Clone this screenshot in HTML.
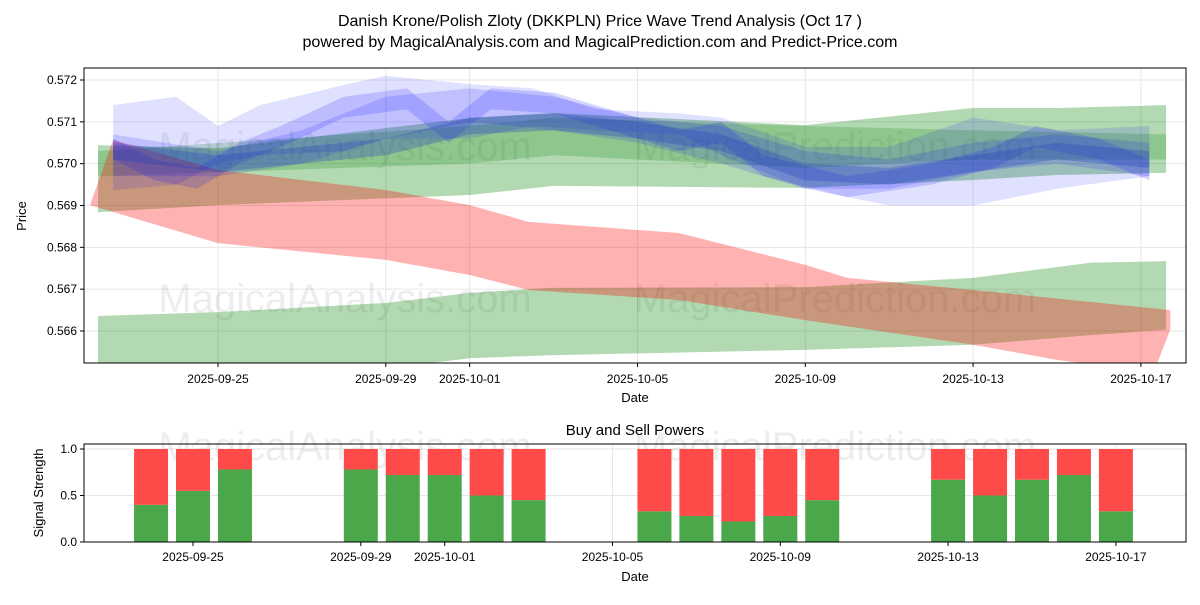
<!DOCTYPE html>
<html><head><meta charset="utf-8"><style>
body{margin:0;background:#fff;}
svg text{font-family:"Liberation Sans","DejaVu Sans",sans-serif;}
</style></head><body>
<svg id="c" width="1200" height="600" xmlns="http://www.w3.org/2000/svg">
<rect width="1200" height="600" fill="#fff"/>
<defs><clipPath id="ct"><rect x="84" y="68" width="1102" height="295"/></clipPath></defs>
<text x="600" y="26" text-anchor="middle" font-size="16">Danish Krone/Polish Zloty (DKKPLN) Price Wave Trend Analysis (Oct 17 )</text>
<text x="600" y="47" text-anchor="middle" font-size="16">powered by MagicalAnalysis.com and MagicalPrediction.com and Predict-Price.com</text>
<g id="topg"></g><g id="botg"></g>
</svg>
<script>
const NS="http://www.w3.org/2000/svg";
const dateTicks=["2025-09-25","2025-09-29","2025-10-01","2025-10-05","2025-10-09","2025-10-13","2025-10-17"];
const dateTickDays=[0,4,6,10,14,18,22];
const priceTicks=[0.566,0.567,0.568,0.569,0.570,0.571,0.572];
const redUpX=[-3.05,-2.5,0,4,6,7.4,11,14,15,18,22.7];
const redUpY=[0.56901,0.57057,0.56985,0.56937,0.56901,0.56861,0.56834,0.56758,0.56727,0.56698,0.56650];
const redLoX=[-3.05,0,4,6,7.4,11,14,18,20,22.3,22.7];
const redLoY=[0.56901,0.56810,0.56770,0.56734,0.56698,0.56674,0.56626,0.56567,0.56531,0.56500,0.56603];
const gLowX=[-2.86,0,4,6,7.9,14,18,20.8,22.6];
const gLowUp=[0.56636,0.56645,0.56667,0.56691,0.56703,0.56705,0.56727,0.56763,0.56767];
const gLowLo=[0.56500,0.56500,0.56510,0.56535,0.56542,0.56555,0.56567,0.56590,0.56603];
const gUpX=[-2.86,0,6,8,14,18,20,22.6];
const gUpUp=[0.57044,0.57037,0.57109,0.57121,0.57092,0.57133,0.57133,0.57140];
const gUpLo=[0.56884,0.56901,0.56925,0.56947,0.56942,0.56961,0.56973,0.56978];
const gInX=[-2.86,6,8,14,18,22.6];
const gInUp=[0.5703,0.5709,0.5711,0.5709,0.5708,0.5707];
const gInLo=[0.5697,0.5700,0.5702,0.5699,0.5701,0.5701];
const bAX=[-2.5,-1,0,1,3,4,6,7.5,9,11,12,14,16,18,20,22.2];
const bAUp=[0.5714,0.5716,0.5709,0.5714,0.57188,0.5721,0.5719,0.5718,0.5713,0.5712,0.5711,0.5704,0.5704,0.5711,0.5708,0.5709];
const bALo=[0.56937,0.5695,0.5700,0.5702,0.5703,0.5706,0.5706,0.5709,0.5708,0.5707,0.5702,0.5694,0.5690,0.5690,0.5694,0.5697];
const bBX=[-2.5,0,2,4,6,8,10,12,14,16,18,20,22.2];
const bBUp=[0.5707,0.5703,0.5708,0.5716,0.5718,0.5716,0.5711,0.5709,0.5703,0.5701,0.5705,0.5707,0.5705];
const bBLo=[0.5697,0.5697,0.5700,0.5706,0.5710,0.5708,0.5705,0.5700,0.5694,0.5694,0.5698,0.5700,0.5697];
const bCUp=[0.5705,0.5702,0.5704,0.5706,0.5711,0.5712,0.5710,0.5707,0.5700,0.5699,0.5702,0.5705,0.5703];
const bCLo=[0.5701,0.5698,0.5700,0.5702,0.5707,0.5708,0.5706,0.5703,0.5696,0.5695,0.5698,0.5701,0.5699];
const bDX=[-2.5,-1.5,-0.5,0.5,1.5,3,4.5,5.5,6.5,8,9,11,12,13,15,17,18.5,19.5,21,22.2];
const bDUp=[0.5706,0.5701,0.5699,0.5705,0.5709,0.5716,0.5718,0.5710,0.5718,0.5717,0.5714,0.5708,0.5710,0.5702,0.5697,0.5700,0.5704,0.5709,0.5706,0.5701];
const bDLo=[0.5701,0.5696,0.5694,0.5700,0.5704,0.5711,0.5713,0.5705,0.5713,0.5712,0.5709,0.5703,0.5705,0.5697,0.5692,0.5695,0.5699,0.5704,0.5701,0.5696];
const barDays=[-1,0,1,4,5,6,7,8,11,12,13,14,15,18,19,20,21,22];
const buyPower=[0.4,0.55,0.78,0.78,0.72,0.72,0.5,0.45,0.33,0.28,0.22,0.28,0.45,0.67,0.5,0.67,0.72,0.33];
const sigTicks=[0,0.5,1];

const T={l:84,r:1186,t:68,b:363};
const xT=d=>218+d*41.95;
const yT=p=>80+(0.572-p)*41833;
const B={l:84,r:1186,t:444,b:542};
const xB=d=>193+d*41.95;
const yB=v=>542-v*93;

function mk(tag,attrs,parent){const e=document.createElementNS(NS,tag);for(const k in attrs)e.setAttribute(k,attrs[k]);parent.appendChild(e);return e;}
const topG=document.getElementById('topg'),botG=document.getElementById('botg');
dateTickDays.forEach((d,i)=>{
 const g=mk('line',{x1:xT(d),x2:xT(d),y1:T.t,y2:T.b,stroke:'#e6e6e6'},topG);
 
 
 mk('line',{x1:xT(d),x2:xT(d),y1:T.b,y2:T.b+4,stroke:'#000'},topG);
 const t=mk('text',{x:xT(d),y:T.b+20,'text-anchor':'middle','font-size':12},topG);t.textContent=dateTicks[i];
 
 
});
priceTicks.forEach(p=>{
 mk('line',{x1:T.l,x2:T.r,y1:yT(p),y2:yT(p),stroke:'#e6e6e6'},topG);
 mk('line',{x1:T.l-4,x2:T.l,y1:yT(p),y2:yT(p),stroke:'#000'},topG);
 const t=mk('text',{x:T.l-7,y:yT(p)+4,'text-anchor':'end','font-size':12},topG);t.textContent=p.toFixed(3);
 
 
});
[["MagicalAnalysis.com",345,160],["MagicalPrediction.com",835,160],["MagicalAnalysis.com",345,312],["MagicalPrediction.com",835,312]].forEach(w=>{
 const t=mk('text',{x:w[1],y:w[2],'text-anchor':'middle','font-size':40,fill:'#000','fill-opacity':0.07},topG);t.textContent=w[0];
 
 
});
const gp=mk('g',{'clip-path':'url(#ct)'},topG);
function band(xu,yu,xl,yl,fill,op,name){
 let pts=xu.map((x,i)=>xT(x)+','+yT(yu[i]));
 for(let i=xl.length-1;i>=0;i--)pts.push(xT(xl[i])+','+yT(yl[i]));
 const e=mk('polygon',{points:pts.join(' '),fill:fill,'fill-opacity':op},gp);
 
 
}
band(gLowX,gLowUp,gLowX,gLowLo,'#008000',0.3,'green-band-lower');
band(gUpX,gUpUp,gUpX,gUpLo,'#008000',0.3,'green-band-upper');
band(gInX,gInUp,gInX,gInLo,'#008000',0.2,'green-band-inner');
band(redUpX,redUpY,redLoX,redLoY,'#ff0000',0.3,'red-band');
band(bAX,bAUp,bAX,bALo,'#0000ff',0.12,'blue-band-envelope');
band(bBX,bBUp,bBX,bBLo,'#0000ff',0.14,'blue-band-b');
band(bDX,bDUp,bDX,bDLo,'#0000ff',0.16,'blue-band-d');
band(bBX,bCUp,bBX,bCLo,'#2040c0',0.3,'blue-band-c');
mk('rect',{x:T.l,y:T.t,width:T.r-T.l,height:T.b-T.t,fill:'none',stroke:'#000'},topG);
let t=mk('text',{x:635,y:T.b+39,'text-anchor':'middle','font-size':13},topG);t.textContent='Date';


t=mk('text',{x:26,y:216,'text-anchor':'middle','font-size':13,transform:'rotate(-90 26 216)'},topG);t.textContent='Price';



t=mk('text',{x:635,y:435,'text-anchor':'middle','font-size':15},botG);t.textContent='Buy and Sell Powers';


dateTickDays.forEach((d,i)=>{
 mk('line',{x1:xB(d),x2:xB(d),y1:B.t,y2:B.b,stroke:'#e6e6e6'},botG);
 mk('line',{x1:xB(d),x2:xB(d),y1:B.b,y2:B.b+4,stroke:'#000'},botG);
 const tt=mk('text',{x:xB(d),y:B.b+19,'text-anchor':'middle','font-size':12},botG);tt.textContent=dateTicks[i];
 
 
});
sigTicks.forEach(v=>{
 mk('line',{x1:B.l,x2:B.r,y1:yB(v),y2:yB(v),stroke:'#e6e6e6'},botG);
 mk('line',{x1:B.l-4,x2:B.l,y1:yB(v),y2:yB(v),stroke:'#000'},botG);
 const tt=mk('text',{x:B.l-7,y:yB(v)+4,'text-anchor':'end','font-size':12},botG);tt.textContent=v.toFixed(1);
 
 
});
[["MagicalAnalysis.com",345,460],["MagicalPrediction.com",835,460]].forEach(w=>{
 const tt=mk('text',{x:w[1],y:w[2],'text-anchor':'middle','font-size':40,fill:'#000','fill-opacity':0.07},botG);tt.textContent=w[0];
 
 
});
barDays.forEach((d,i)=>{
 const x=xB(d)-17,v=buyPower[i];
 const g=mk('rect',{x:x,y:yB(v),width:34,height:yB(0)-yB(v),fill:'#4aa84a'},botG);
 
 
 const r=mk('rect',{x:x,y:yB(1),width:34,height:yB(v)-yB(1),fill:'#ff4a4a'},botG);
 
 
});
mk('rect',{x:B.l,y:B.t,width:B.r-B.l,height:B.b-B.t,fill:'none',stroke:'#000'},botG);
t=mk('text',{x:635,y:581,'text-anchor':'middle','font-size':13},botG);t.textContent='Date';


t=mk('text',{x:43,y:493,'text-anchor':'middle','font-size':13,transform:'rotate(-90 43 493)'},botG);t.textContent='Signal Strength';


</script>
</body></html>
